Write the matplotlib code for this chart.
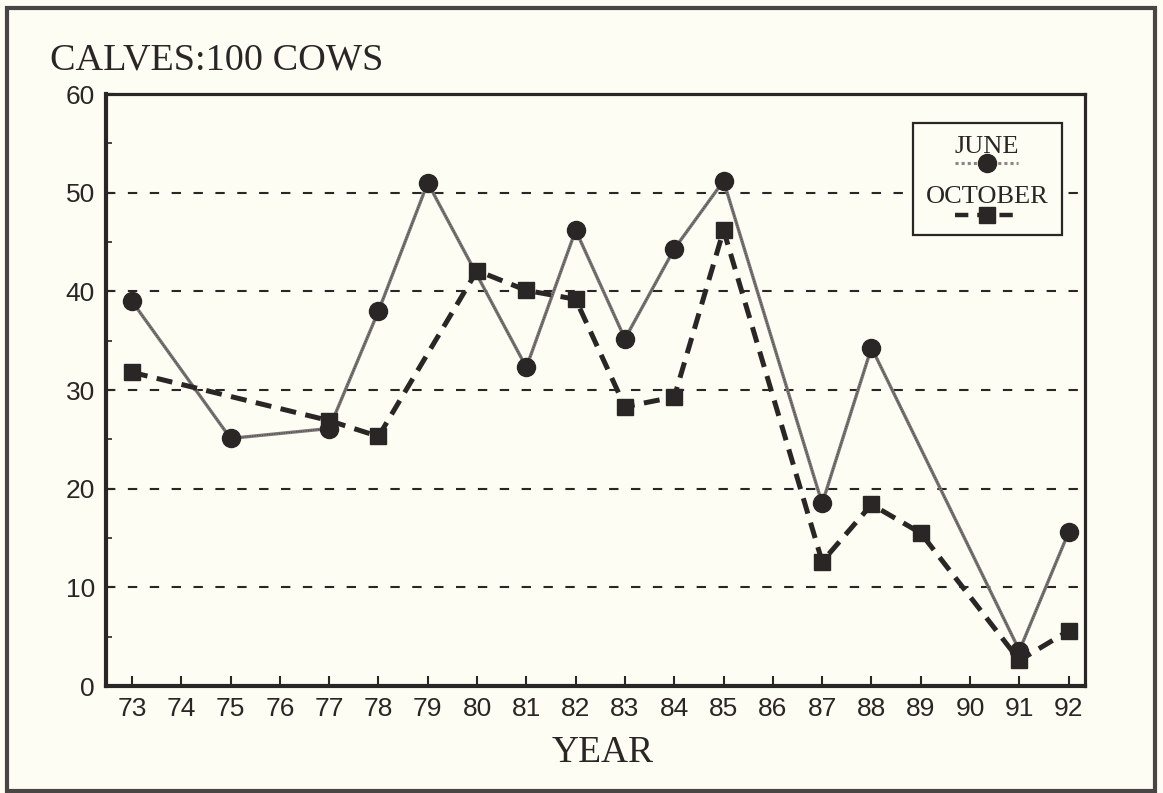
import numpy as np
import matplotlib
matplotlib.use("Agg")
import matplotlib.pyplot as plt
from matplotlib.patches import Rectangle
from matplotlib.lines import Line2D

# data
years = list(range(73, 93))
june_years = [73, 75, 77, 78, 79, 81, 82, 83, 84, 85, 87, 88, 91, 92]
june_vals = [39.0, 25.1, 26.1, 38.0, 51.0, 32.3, 46.2, 35.2, 44.3, 51.2, 18.5, 34.3, 3.6, 15.6]
oct_years = [73, 77, 78, 80, 81, 82, 83, 84, 85, 87, 88, 89, 91, 92]
oct_vals = [31.8, 26.9, 25.3, 42.1, 40.1, 39.2, 28.3, 29.3, 46.2, 12.6, 18.4, 15.5, 2.6, 5.6]
ytick_vals = [0, 10, 20, 30, 40, 50, 60]

ink = "#2b2626"
paper = "#fdfdf4"

fig = plt.figure(figsize=(11.63, 7.93), dpi=100, facecolor=paper)
ax = fig.add_axes([0.0911, 0.1349, 0.8418, 0.7465], facecolor=paper)

# gridlines
for v in ytick_vals[1:-1]:
    ax.axhline(v, color=ink, lw=1.5, ls=(0, (4.5, 6)), zorder=1)

# June series
ax.plot(june_years, june_vals, color="#7d7777", lw=2.4, zorder=3)
ax.plot(june_years, june_vals, color="#4a4444", lw=0.8, ls=(0, (1, 1.2)), zorder=3)
ax.plot(june_years, june_vals, ls="none", marker="o", ms=13, color=ink, zorder=5)

# October series
ax.plot(oct_years, oct_vals, color=ink, lw=3.6, dashes=(3.2, 1.9), zorder=4,
        marker="s", ms=12, mfc=ink, mec=ink)

ax.set_xlim(73 - 0.527, 73 + 19.33)
ax.set_ylim(0, 60)
ax.set_xticks(years)
ax.set_xticklabels([str(y) for y in years])
ax.set_yticks(ytick_vals)
ax.set_yticks([5, 15, 25, 35, 45, 55], minor=True)

for side in ["left", "bottom"]:
    ax.spines[side].set_linewidth(3.0)
for side in ["top", "right"]:
    ax.spines[side].set_linewidth(2.3)
for sp in ax.spines.values():
    sp.set_color(ink)

ax.tick_params(axis="x", direction="in", length=7, width=1.5, color=ink,
               labelsize=19, pad=8, labelcolor=ink)
ax.tick_params(axis="y", which="major", direction="in", length=6, width=1.5,
               color=ink, labelsize=19, pad=8, labelcolor=ink)
ax.tick_params(axis="y", which="minor", direction="in", length=4, width=1.2, color=ink)
for lab in ax.get_xticklabels() + ax.get_yticklabels():
    lab.set_fontfamily("Liberation Sans")

# legend box drawn by hand (text above sample)
ax.add_patch(Rectangle((0.824, 0.762), 0.1525, 0.189, transform=ax.transAxes,
                       facecolor=paper, edgecolor=ink, lw=1.6, zorder=6))
ax.text(0.90, 0.910, "JUNE", transform=ax.transAxes, ha="center", va="center",
        fontsize=19, family="Liberation Serif", color=ink, zorder=7)
ax.text(0.90, 0.826, "OCTOBER", transform=ax.transAxes, ha="center", va="center",
        fontsize=19, family="Liberation Serif", color=ink, zorder=7)
ax.add_line(Line2D([0.867, 0.932], [0.883, 0.883], transform=ax.transAxes,
                   color="#8a8484", lw=2.2, ls=(0, (1, 1)), zorder=7))
ax.add_line(Line2D([0.90], [0.883], transform=ax.transAxes, marker="o", ms=13,
                   color=ink, zorder=8))
ax.add_line(Line2D([0.867, 0.932], [0.796, 0.796], transform=ax.transAxes,
                   color=ink, lw=3.2, dashes=(3, 2), zorder=7))
ax.add_line(Line2D([0.90], [0.796], transform=ax.transAxes, marker="s", ms=11,
                   color=ink, zorder=8))

# titles
fig.text(50 / 1163, 1 - 70 / 793, "CALVES:100 COWS", fontsize=27.5,
         family="Liberation Serif", color=ink, va="baseline", ha="left")
fig.text(603 / 1163, 1 - 762 / 793, "YEAR", fontsize=27,
         family="Liberation Serif", color=ink, va="baseline", ha="center")

# page frame
fig.add_artist(Rectangle((7 / 1163, 2 / 793), 1148 / 1163, 783 / 793,
                         transform=fig.transFigure, fill=False,
                         edgecolor="#4a4545", lw=3))

fig.savefig("out.png", dpi=100, facecolor=paper)
